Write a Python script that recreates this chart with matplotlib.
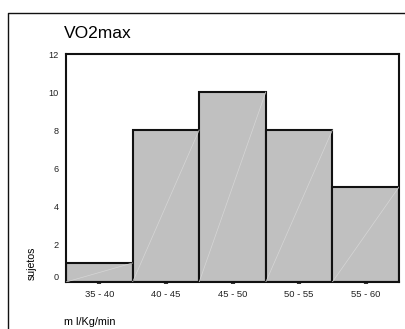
import matplotlib
matplotlib.use("Agg")
import matplotlib.pyplot as plt
from matplotlib.lines import Line2D

plt.rcParams['font.family'] = ['Liberation Sans', 'DejaVu Sans']

categories = ["35 - 40", "40 - 45", "45 - 50", "50 - 55", "55 - 60"]
bin_edges = [35, 40, 45, 50, 55, 60]
counts = [1, 8, 10, 8, 5]
y_ticks = [0, 2, 4, 6, 8, 10, 12]

fig = plt.figure(figsize=(4.06, 3.29), dpi=100)
W, H = 406, 329
ax = fig.add_axes([66 / W, 1 - 282 / H, (399 - 66) / W, (282 - 54) / H])

lefts = bin_edges[:-1]
widths = [b - a for a, b in zip(bin_edges[:-1], bin_edges[1:])]
centers = [a + w / 2 for a, w in zip(lefts, widths)]

ax.bar(lefts, counts, width=widths, align='edge', color='#c0c0c0',
       edgecolor='#111111', linewidth=1.5, zorder=2)

# faint diagonal stroke across each bar
for a, w, c in zip(lefts, widths, counts):
    ax.plot([a, a + w], [0, c], color='#d6d6d6', lw=0.5, zorder=3)

ax.set_xlim(bin_edges[0], bin_edges[-1])
ax.set_ylim(0, 12)
ax.set_xticks(centers)
ax.set_xticklabels(categories, fontsize=6.8, color='#222222')
ax.set_yticks(y_ticks)
ax.set_yticklabels([str(v) for v in y_ticks], fontsize=6.6, color='#222222')
ax.tick_params(axis='y', length=0, pad=5)
ax.tick_params(axis='x', length=1.6, width=3, color='#333333', pad=4)
ax.get_yticklabels()[0].set_va('bottom')

for s in ax.spines.values():
    s.set_linewidth(1.5)
    s.set_color('#111111')

fig.text(64 / W, 1 - 33 / H, "VO2max", fontsize=12.5, va='center', ha='left')
fig.text(32 / W, 1 - 263 / H, "sujetos", fontsize=7.6, rotation=90,
         va='center', ha='center')
fig.text(64 / W, 1 - 322 / H, "m l/Kg/min", fontsize=7.8, va='center', ha='left')

# outer panel border
fig.add_artist(Line2D([8 / W, 8 / W, 1.0], [0.0, 1 - 13 / H, 1 - 13 / H],
                      transform=fig.transFigure, color='#111111', lw=1.0))

fig.savefig("out.png", dpi=100)
